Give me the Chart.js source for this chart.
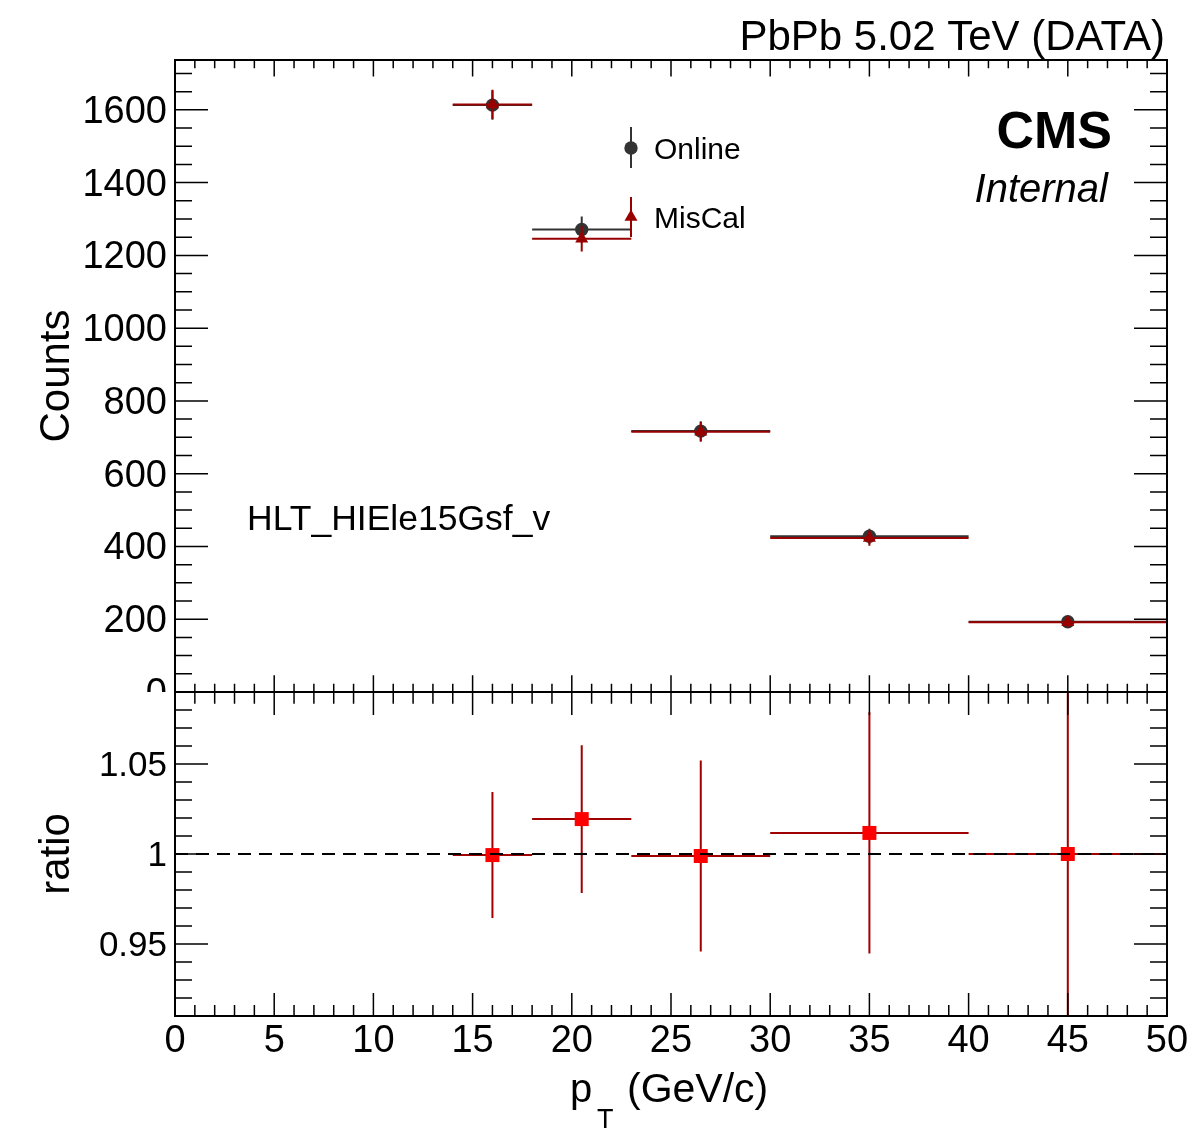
<!DOCTYPE html>
<html>
<head>
<meta charset="utf-8">
<script src="https://cdn.jsdelivr.net/npm/chart.js@4.4.1/dist/chart.umd.min.js"></script>
<style>
  html, body { margin: 0; padding: 0; background: #fff; }
  #wrap { position: relative; width: 1195px; height: 1130px; overflow: hidden; }
  #top { position: absolute; left: 0; top: 0; }
  #bot { position: absolute; left: 0; top: 692px; }
</style>
</head>
<body>
<div id="wrap">
  <canvas id="top" width="1195" height="692"></canvas>
  <canvas id="bot" width="1195" height="438"></canvas>
</div>
<script>
// pT bins and counts
const binLo = [14, 18, 23, 30, 40];
const binHi = [18, 23, 30, 40, 50];
const binCenter = [16, 20.5, 26.5, 35, 45];
const onlineCounts = [1613, 1271, 717, 428, 193];
const onlineErr = [40, 36, 27, 21, 14];
const miscalCounts = [1615, 1246, 715, 423, 192];
const miscalErr = [40, 35, 27, 21, 14];
const ratioVals = [0.9994, 1.0194, 0.9989, 1.0117, 1.0];
const ratioErr = [0.035, 0.041, 0.053, 0.067, 0.102];

const xTicks = [0, 5, 10, 15, 20, 25, 30, 35, 40, 45, 50];
const countTicks = [0, 200, 400, 600, 800, 1000, 1200, 1400, 1600];
const ratioTicks = [0.95, 1, 1.05];
const ratioTickLabels = ['0.95', '1', '1.05'];

const FONT = '"Liberation Sans", Arial, Helvetica, sans-serif';
const ONLINE = '#333333';
const MISCAL = '#990000';

function pts(xs, ys) {
  return xs.map((x, i) => ({ x, y: ys[i] }));
}

// ROOT-like error bars, drawn just under each dataset's markers
const errorBars = {
  id: 'errorBars',
  beforeDatasetDraw(chart, args) {
    const ds = chart.data.datasets[args.index];
    if (!ds.err) return;
    const { ctx, chartArea: a } = chart;
    const x = chart.scales.x, y = chart.scales.y;
    ctx.save();
    ctx.beginPath();
    ctx.rect(a.left, a.top, a.right - a.left, a.bottom - a.top);
    ctx.clip();
    ctx.strokeStyle = ds.errColor;
    ctx.lineWidth = 2;
    ds.data.forEach((p, i) => {
      const px = x.getPixelForValue(p.x);
      const py = y.getPixelForValue(p.y);
      ctx.beginPath();
      ctx.moveTo(x.getPixelForValue(ds.lo[i]), py);
      ctx.lineTo(x.getPixelForValue(ds.hi[i]), py);
      ctx.moveTo(px, y.getPixelForValue(p.y - ds.err[i]));
      ctx.lineTo(px, y.getPixelForValue(p.y + ds.err[i]));
      ctx.stroke();
    });
    ctx.restore();
  },
};

// frame + inward ticks on all four sides
function frameTicks(cfg) {
  return {
    id: 'frameTicks',
    afterDraw(chart) {
      const { ctx, chartArea: a } = chart;
      const x = chart.scales.x, y = chart.scales.y;
      ctx.save();
      ctx.strokeStyle = '#000';
      ctx.lineWidth = 1.5;
      ctx.beginPath();
      for (let i = 0; i <= 50; i++) {
        const px = x.getPixelForValue(i);
        const major = i % 5 === 0;
        const lt = major ? cfg.xTop[0] : cfg.xTop[1];
        const lb = major ? cfg.xBot[0] : cfg.xBot[1];
        ctx.moveTo(px, a.top); ctx.lineTo(px, a.top + lt);
        ctx.moveTo(px, a.bottom); ctx.lineTo(px, a.bottom - lb);
      }
      const n = Math.round((cfg.yMax - cfg.yMin) / cfg.yMinor);
      for (let k = 0; k <= n; k++) {
        const v = cfg.yMin + k * cfg.yMinor;
        const py = y.getPixelForValue(v);
        const q = v / cfg.yMajor;
        const l = Math.abs(q - Math.round(q)) < 1e-6 ? 33 : 17;
        ctx.moveTo(a.left, py); ctx.lineTo(a.left + l, py);
        ctx.moveTo(a.right, py); ctx.lineTo(a.right - l, py);
      }
      ctx.stroke();
      ctx.lineWidth = 2;
      ctx.strokeRect(a.left, a.top, a.right - a.left, a.bottom - a.top);
      ctx.restore();
    },
  };
}

function fixY(s) {
  s.width = 175;
  s.paddingTop = 0; s.paddingBottom = 0;
}

const topLabels = {
  id: 'topLabels',
  afterDraw(chart) {
    const ctx = chart.ctx;
    const H = Chart.helpers;
    ctx.save();
    ctx.fillStyle = '#000';
    ctx.textBaseline = 'alphabetic';
    ctx.textAlign = 'right';
    ctx.font = `42px ${FONT}`;
    ctx.fillText('PbPb 5.02 TeV (DATA)', 1165, 50);
    ctx.font = `bold 52px ${FONT}`;
    ctx.fillText('CMS', 1112, 148);
    ctx.font = `italic 40px ${FONT}`;
    ctx.fillText('Internal', 1108, 202);
    ctx.textAlign = 'left';
    ctx.font = `35.5px ${FONT}`;
    ctx.fillText('HLT_HIEle15Gsf_v', 247, 530);

    // legend
    ctx.lineWidth = 2;
    ctx.strokeStyle = ONLINE;
    ctx.beginPath(); ctx.moveTo(631, 127); ctx.lineTo(631, 168); ctx.stroke();
    ctx.fillStyle = ONLINE;
    H.drawPoint(ctx, { pointStyle: 'circle', radius: 6.7, rotation: 0, borderWidth: 0 }, 631, 148);
    ctx.strokeStyle = MISCAL;
    ctx.beginPath(); ctx.moveTo(631, 197); ctx.lineTo(631, 237); ctx.stroke();
    ctx.fillStyle = MISCAL;
    H.drawPoint(ctx, { pointStyle: 'triangle', radius: 7.5, rotation: 0, borderWidth: 0 }, 631, 217);
    ctx.fillStyle = '#000';
    ctx.font = `30px ${FONT}`;
    ctx.fillText('Online', 654, 159);
    ctx.fillText('MisCal', 654, 228);
    ctx.restore();
  },
};

const unityLine = {
  id: 'unityLine',
  afterDatasetsDraw(chart) {
    const { ctx, chartArea: a } = chart;
    const py = chart.scales.y.getPixelForValue(1);
    ctx.save();
    ctx.strokeStyle = '#000';
    ctx.lineWidth = 2;
    ctx.setLineDash([13, 8]);
    ctx.beginPath();
    ctx.moveTo(a.left, py); ctx.lineTo(a.right, py);
    ctx.stroke();
    ctx.restore();
  },
};

const xTitle = {
  id: 'xTitle',
  afterDraw(chart) {
    const ctx = chart.ctx;
    ctx.save();
    ctx.fillStyle = '#000';
    ctx.textAlign = 'left';
    ctx.textBaseline = 'alphabetic';
    ctx.font = `40px ${FONT}`;
    ctx.fillText('p', 570, 410);
    ctx.font = `41px ${FONT}`;
    ctx.fillText('(GeV/c)', 627, 410);
    ctx.font = `27px ${FONT}`;
    ctx.fillText('T', 597, 436);
    ctx.restore();
  },
};

const tickFont = (size) => ({ family: FONT, size });

new Chart(document.getElementById('top'), {
  type: 'scatter',
  data: {
    datasets: [
      {
        label: 'MisCal', order: 0,
        data: pts(binCenter, miscalCounts),
        lo: binLo, hi: binHi, err: miscalErr, errColor: MISCAL,
        pointStyle: 'triangle', pointRadius: 7.5, pointBorderWidth: 0,
        backgroundColor: MISCAL, borderColor: MISCAL,
      },
      {
        label: 'Online', order: 1,
        data: pts(binCenter, onlineCounts),
        lo: binLo, hi: binHi, err: onlineErr, errColor: ONLINE,
        pointStyle: 'circle', pointRadius: 6.7, pointBorderWidth: 0,
        backgroundColor: ONLINE, borderColor: ONLINE,
      },
    ],
  },
  options: {
    responsive: false,
    animation: false,
    layout: { autoPadding: false, padding: { top: 60, right: 28, bottom: 0, left: 0 } },
    plugins: { legend: { display: false }, tooltip: { enabled: false } },
    scales: {
      x: { type: 'linear', min: 0, max: 50, display: false },
      y: {
        type: 'linear', min: 0, max: 1737,
        afterBuildTicks: (s) => { s.ticks = countTicks.map((v) => ({ value: v })); },
        afterFit: fixY,
        grid: { display: false, drawTicks: false },
        border: { display: false },
        ticks: { color: '#000', font: tickFont(38), padding: 8, labelOffset: 2.5, callback: (v) => String(v) },
        title: { display: true, text: 'Counts', color: '#000', font: { family: FONT, size: 42 }, padding: { top: 32, bottom: 0 } },
      },
    },
  },
  plugins: [errorBars, frameTicks({ xTop: [16.5, 8.3], xBot: [16.7, 8.3], yMin: 0, yMax: 1700, yMinor: 50, yMajor: 200 }), topLabels],
});

new Chart(document.getElementById('bot'), {
  type: 'scatter',
  data: {
    datasets: [
      {
        label: 'ratio',
        data: pts(binCenter, ratioVals),
        lo: binLo, hi: binHi, err: ratioErr, errColor: '#a00000',
        pointStyle: 'rect', pointRadius: 9.9, pointBorderWidth: 0,
        backgroundColor: '#ff0000', borderColor: '#ff0000',
      },
    ],
  },
  options: {
    responsive: false,
    animation: false,
    layout: { autoPadding: false, padding: { top: 0, right: 28, bottom: 0, left: 0 } },
    plugins: { legend: { display: false }, tooltip: { enabled: false } },
    scales: {
      x: {
        type: 'linear', min: 0, max: 50,
        afterBuildTicks: (s) => { s.ticks = xTicks.map((v) => ({ value: v })); },
        afterFit: (s) => { s.height = 114; s.paddingLeft = 0; s.paddingRight = 0; },
        grid: { display: false, drawTicks: false },
        border: { display: false },
        ticks: { color: '#000', font: tickFont(38), padding: 3, autoSkip: false, maxRotation: 0, callback: (v) => String(v) },
      },
      y: {
        type: 'linear', min: 0.91, max: 1.09,
        afterBuildTicks: (s) => { s.ticks = ratioTicks.map((v) => ({ value: v })); },
        afterFit: fixY,
        grid: { display: false, drawTicks: false },
        border: { display: false },
        ticks: { color: '#000', font: tickFont(35), padding: 8, labelOffset: 2.5, callback: (v, i) => ratioTickLabels[i] },
        title: { display: true, text: 'ratio', color: '#000', font: { family: FONT, size: 42 }, padding: { top: 32, bottom: 0 } },
      },
    },
  },
  plugins: [errorBars, unityLine, frameTicks({ xTop: [23, 11.7], xBot: [23, 11], yMin: 0.91, yMax: 1.09, yMinor: 0.01, yMajor: 0.05 }), xTitle],
});
</script>
</body>
</html>
